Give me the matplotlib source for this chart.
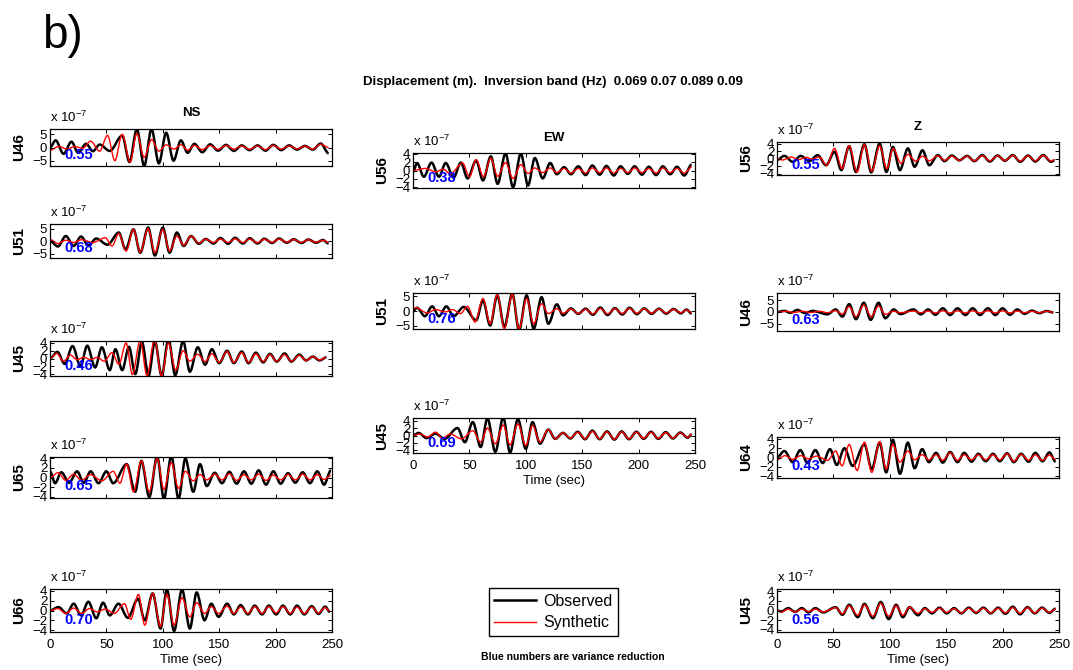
import matplotlib
matplotlib.use("Agg")
import matplotlib.pyplot as plt
from matplotlib.path import Path
from matplotlib.patches import PathPatch
from matplotlib.lines import Line2D

plt.rcParams['font.family'] = ['Liberation Sans', 'DejaVu Sans']
plt.rcParams['mathtext.fontset'] = 'custom'
plt.rcParams['mathtext.rm'] = 'Liberation Sans'
plt.rcParams['mathtext.it'] = 'Liberation Sans:italic'
plt.rcParams['mathtext.bf'] = 'Liberation Sans:bold'

# ---- waveform extrema (time in s, amplitude in 1e-7 m) ----
# NS component
ns_u46_obs_t = [0, 5, 12, 19, 25, 32, 38, 44, 53, 64, 70.5, 77, 83.5, 90, 96.5, 103, 109.5, 116, 122, 128,
                135, 142, 149, 156, 163, 170, 177, 184, 191, 198, 205, 212, 219, 226, 233, 240, 247]
ns_u46_obs_a = [0, 2.7, -2.4, 2.2, -2.0, 1.4, -1.4, 1.1, -1.3, 4.5, -5.5, 7.0, -7.0, 7.0, -6.0, 5.6, -5.0, 2.7, -2.0, 1.4,
                -1.8, 1.2, -1.2, 1.0, -1.3, 0.8, -1.0, 0.8, -1.2, 1.0, -1.0, 0.8, -0.8, 0.6, -0.8, 1.5, -2.2]
ns_u46_syn_t = [0, 8, 15, 22, 29, 36, 44, 51, 57.5, 64, 71, 77, 83.5, 90, 96.5, 103, 110, 116, 122, 128,
                135, 142, 149, 156, 163, 170, 177, 184, 191, 198, 205, 212, 219, 226, 233, 240, 247]
ns_u46_syn_a = [-1.0, 0.4, -0.6, 0.3, -0.3, 2.4, -1.4, 4.6, -5.0, 5.0, -5.5, 5.3, -3.7, 3.0, -1.4, 1.0, -0.6, 1.0, -1.0, 0.8,
                -0.8, 0.7, -0.7, 0.8, -0.6, 0.6, -0.7, 0.6, -0.8, 0.8, -0.6, 0.6, -0.5, 0.5, -0.6, 1.3, 0.0]

ns_u51_obs_t = [0, 7, 14, 21, 27.5, 34, 41, 51, 61, 67, 74, 80, 87, 93, 100, 106, 112.5, 118.5, 125, 132,
                138, 145, 151, 158, 164, 171, 177, 184, 190, 197, 203, 210, 216, 223, 229, 236, 242, 247]
ns_u51_obs_a = [0, -2.2, 2.0, -2.0, 1.8, -1.8, 1.0, -1.5, 3.4, -3.4, 4.7, -4.7, 5.4, -5.8, 5.4, -4.7, 3.4, -2.0, 2.0, -1.1,
                0.8, -1.0, 1.2, -1.1, 1.3, -1.0, 1.1, -1.0, 0.9, -0.8, 1.0, -0.7, 0.7, -0.8, 0.6, -0.7, 0.4, -1.0]
ns_u51_syn_t = [0, 7, 14, 21, 28, 38, 49, 55, 61, 67.5, 74, 80, 87, 93, 100, 106, 112.5, 118.5, 125, 132,
                138, 145, 151, 158, 164, 171, 177, 184, 190, 197, 203, 210, 216, 223, 229, 236, 242, 247]
ns_u51_syn_a = [0.6, -1.0, 0.3, -0.6, 0.5, -0.6, 1.3, -2.0, 3.0, -4.0, 4.7, -4.5, 5.0, -4.7, 4.7, -4.0, 2.0, -1.7, 2.0, -0.8,
                0.7, -0.6, 0.8, -0.6, 0.9, -0.6, 0.8, -0.7, 0.7, -0.6, 0.8, -0.5, 0.6, -0.6, 0.5, -0.5, 0.3, -0.6]

ns_u45_obs_t = [0, 6.5, 13, 20, 27, 33, 40, 46, 53, 58, 64, 70, 75.6, 81.5, 87.4, 93, 99, 105, 111, 118,
                124, 131, 137.5, 143.5, 150, 157, 163, 170, 176, 182.5, 189, 195, 201, 208, 214, 221, 227, 233, 239, 245]
ns_u45_obs_a = [0, 1.7, -1.4, 3.2, -2.0, 3.3, -2.3, 2.9, -3.0, 2.4, -3.0, 3.0, -4.0, 4.2, -4.4, 4.4, -4.5, 5.0, -4.3, 4.5,
                -3.4, 2.9, -1.6, 2.4, -1.2, 2.0, -1.2, 1.8, -1.2, 1.5, -1.0, 1.2, -0.8, 1.3, -0.8, 1.0, -0.5, 0.5, -0.5, 0.3]
ns_u45_syn_t = [0, 6, 12, 18, 24, 30, 36, 42, 48, 55, 61, 67.5, 73, 80, 86, 92.6, 99, 105, 111.5, 118,
                124, 131, 137.5, 143.5, 150, 157, 163, 170, 176, 182.5, 189, 195, 201, 208, 214, 221, 227, 233, 239, 245]
ns_u45_syn_a = [0, 1.3, -0.7, 0.9, -0.3, 0.3, -0.3, 0.3, -0.7, 1.5, -1.5, 4.0, -4.1, 4.7, -4.5, 4.9, -4.5, 4.0, -3.0, 2.0,
                -0.7, 1.1, -0.8, 1.2, -1.0, 1.8, -1.0, 1.5, -1.0, 1.2, -0.8, 1.0, -0.7, 1.0, -0.7, 0.8, -0.5, 0.5, -0.4, 0.3]

ns_u65_obs_t = [0, 4.5, 10, 17, 24, 30, 36, 43, 50, 56, 68, 75.5, 81, 88, 95, 101, 107.5, 114, 120, 127,
                133, 139, 146, 152.5, 159, 165.5, 172, 178.5, 185, 191.5, 198, 204.5, 211, 217.5, 224, 230.5, 237, 243, 249]
ns_u65_obs_a = [1.3, -1.2, 1.1, -1.1, 1.3, -1.1, 1.3, -1.2, 1.3, -1.2, 2.8, -3.0, 3.5, -4.1, 4.4, -4.5, 4.5, -4.5, 4.0, -3.0,
                2.8, -1.8, 1.0, -1.2, 1.2, -1.3, 1.3, -1.3, 1.5, -1.5, 1.3, -1.3, 0.9, -1.1, 1.1, -1.2, 1.3, -1.5, 1.5]
ns_u65_syn_t = [0, 7, 14, 21, 28, 36, 46, 56, 62, 68, 74, 81, 88, 95, 101, 107.5, 114, 120, 127, 133,
                139, 146, 152.5, 159, 165.5, 172, 178.5, 185, 191.5, 198, 204.5, 211, 217.5, 224, 230.5, 237, 243, 249]
ns_u65_syn_a = [0, 1.0, -0.6, 0.7, -0.6, 0.6, -0.7, 1.3, -1.2, 2.8, -3.0, 3.5, -3.0, 4.0, -2.5, 3.1, -2.3, 1.3, -0.7, 0.6,
                -0.5, 0.7, -0.5, 0.8, -0.6, 0.6, -0.5, 0.7, -0.6, 0.5, -0.5, 0.6, -0.5, 0.7, -0.5, 0.6, -0.4, 0.4]

ns_u66_obs_t = [0, 7.5, 14.8, 21, 27.5, 34, 41, 47, 53, 60.7, 69, 78, 84, 91, 98, 103.6, 110, 117, 124, 130,
                137, 143, 149.5, 157, 163, 169, 175.5, 181.5, 188, 194, 200.5, 206.5, 213, 219, 225.5, 232, 238, 244, 248]
ns_u66_obs_a = [0, 0.7, -0.6, 1.4, -1.0, 1.8, -1.6, 1.6, -1.0, 1.4, -1.5, 2.4, -2.0, 3.5, -3.7, 4.3, -4.2, 4.3, -3.7, 3.7,
                -2.0, 1.4, -1.3, 1.4, -0.8, 1.1, -0.8, 1.0, -0.8, 1.0, -0.8, 1.0, -0.8, 1.0, -0.8, 0.9, -0.7, 0.8, -0.3]
ns_u66_syn_t = [0, 7, 14, 21, 28, 35, 42, 49, 57, 66, 71.6, 78.4, 84, 91, 98, 103.6, 110, 117, 124, 130,
                137, 143, 149.5, 157, 163, 169, 175.5, 181.5, 188, 194, 200.5, 206.5, 213, 219, 225.5, 232, 238, 244, 248]
ns_u66_syn_a = [0, 0.4, -0.6, 0.5, -0.6, 0.4, -0.3, 0.3, -0.6, 1.4, -1.8, 3.3, -3.0, 3.5, -3.3, 3.3, -3.0, 2.6, -1.3, 1.6,
                -0.6, 0.8, -0.6, 0.9, -0.6, 0.7, -0.6, 0.8, -0.6, 0.8, -0.5, 0.8, -0.6, 0.7, -0.6, 0.7, -0.5, 0.6, -0.2]

# EW component
ew_u56_obs_t = [0, 3.6, 9.6, 16.4, 23, 29, 36, 42.4, 48.4, 56, 62, 69, 75, 82, 88.7, 95.6, 102, 108, 115, 121.6,
                127.5, 134, 140, 146.5, 153, 159, 165.5, 171.5, 178, 184, 190.5, 196.5, 203, 209, 215.5, 221.5, 228, 234, 240.5, 247]
ew_u56_obs_a = [-0.3, 1.8, -1.5, 1.9, -1.5, 1.8, -1.7, 1.9, -1.9, 2.4, -2.4, 3.4, -3.2, 4.1, -4.0, 4.1, -3.6, 3.0, -1.9, 1.8,
                -0.9, 0.8, -0.9, 1.0, -1.1, 1.2, -1.0, 1.1, -1.2, 1.0, -0.8, 1.0, -1.0, 0.9, -1.1, 1.0, -0.9, 0.9, -1.2, 1.4]
ew_u56_syn_t = [0, 11, 20, 27, 33, 44, 50, 56, 62.5, 69, 75, 82, 88.7, 95.6, 102, 108, 115, 121.6, 127.5, 134,
                140, 146.5, 153, 159, 165.5, 171.5, 178, 184, 190.5, 196.5, 203, 209, 215.5, 221.5, 228, 234, 240.5, 247]
ew_u56_syn_a = [0, 0.5, -0.3, 0.3, -0.8, 1.8, -1.5, 2.6, -1.5, 3.0, -1.4, 1.9, -1.9, 1.4, -0.7, 0.6, -0.5, 0.6, -0.5, 0.5,
                -0.6, 0.5, -0.6, 0.6, -0.5, 0.6, -0.6, 0.5, -0.5, 0.6, -0.5, 0.5, -0.6, 0.6, -0.5, 0.5, -0.6, 0.8]

ew_u51_obs_t = [0, 3.6, 10.5, 17, 23, 29.6, 36, 45, 56, 62, 68.4, 74.7, 81, 88, 94, 100.7, 107, 114, 120, 127.5,
                133, 140, 146.5, 153, 159.5, 166, 172.5, 179, 185.5, 192, 198.5, 205, 211.5, 218, 224.5, 231, 237.5, 242.5, 247]
ew_u51_obs_a = [0, 1.1, -1.8, 1.6, -1.8, 1.6, -1.8, 1.4, -3.2, 3.7, -5.0, 5.4, -5.5, 6.0, -6.6, 5.4, -6.1, 4.8, -4.4, 2.3,
                -1.5, 0.9, -1.0, 0.8, -1.3, 1.2, -1.4, 1.0, -1.2, 1.1, -1.1, 0.9, -1.0, 0.8, -0.9, 0.7, -0.8, 0.5, -0.9]
ew_u51_syn_t = [0, 3, 12.5, 20, 29, 35, 42, 48.4, 55, 62, 68.4, 74.7, 81, 88, 94, 100.7, 107, 114, 120, 127.5,
                133, 140, 146.5, 153, 159.5, 166, 172.5, 179, 185.5, 192, 198.5, 205, 211.5, 218, 224.5, 231, 237.5, 242.5, 247]
ew_u51_syn_a = [0.8, 1.1, -0.7, 0.5, -0.3, 0.5, -0.9, 1.6, -3.8, 4.3, -4.4, 5.7, -6.1, 5.7, -6.1, 4.3, -4.4, 2.5, -0.9, 0.8,
                -0.8, 0.7, -0.9, 0.6, -1.0, 0.9, -1.0, 0.8, -0.9, 0.9, -0.8, 0.8, -0.8, 0.7, -0.7, 0.6, -0.6, 0.4, -0.6]

ew_u45_obs_t = [0, 5, 12, 20, 28, 39.4, 46, 53, 60, 66, 73, 80, 86, 93, 100, 106, 112.6, 120, 126, 133,
                139.5, 146, 152.5, 159, 165.5, 172, 178.5, 185, 191.5, 198, 204.5, 211, 217.5, 224, 230.5, 237, 243.5, 247]
ew_u45_obs_a = [0, 0.7, -0.7, 0.5, -0.9, 2.0, -1.8, 3.6, -3.1, 4.6, -4.4, 4.9, -4.6, 4.4, -3.6, 3.6, -2.2, 1.6, -0.9, 0.7,
                -0.8, 1.0, -1.0, 1.3, -1.0, 1.1, -1.1, 1.1, -1.0, 1.0, -0.9, 1.0, -0.9, 0.9, -0.8, 0.8, -0.6, 0.3]
ew_u45_syn_t = [0, 6, 13, 20, 26, 33, 43, 53, 60, 66, 73, 80, 86, 93, 100, 106, 112.6, 120, 126, 133,
                139.5, 146, 152.5, 159, 165.5, 172, 178.5, 185, 191.5, 198, 204.5, 211, 217.5, 224, 230.5, 237, 243.5, 247]
ew_u45_syn_a = [0, 0.4, -0.4, 0.9, -0.7, 0.4, -0.9, 1.3, -1.8, 2.0, -2.2, 2.8, -2.5, 3.1, -2.7, 2.7, -1.8, 1.6, -0.9, 0.7,
                -0.7, 0.9, -0.9, 1.1, -0.9, 1.0, -1.0, 1.0, -0.9, 0.9, -0.8, 0.9, -0.8, 0.8, -0.7, 0.7, -0.5, 0.3]

# Z component
z_u56_obs_t = [0, 6.5, 14, 21, 28.7, 36, 43.5, 51, 57, 64, 70, 77.5, 83.5, 91, 97, 102.7, 109, 116, 122, 129,
               135, 142.6, 148.5, 155, 161.7, 168.5, 175, 182, 188.7, 195.5, 202, 209, 215.7, 222.5, 229, 236, 243, 246]
z_u56_obs_a = [-0.4, 0.7, -0.9, 0.7, -0.7, 0.9, -1.8, 1.8, -3.1, 3.3, -3.6, 3.8, -3.7, 4.0, -3.6, 3.1, -3.1, 2.7, -2.2, 2.2,
               -1.8, 0.9, -0.7, 0.8, -0.5, 0.7, -0.7, 0.9, -0.8, 0.8, -0.6, 0.9, -0.9, 0.8, -0.8, 0.9, -0.9, -0.5]
z_u56_syn_t = [0, 5, 12.4, 19, 26, 31, 37.6, 44, 51, 57.7, 64, 71, 77.5, 84, 91, 97.4, 103, 110, 116, 123,
               129, 135, 142.6, 148.5, 155, 161.7, 168.5, 175, 182, 188.7, 195.5, 202, 209, 215.7, 222.5, 229, 236, 243, 246]
z_u56_syn_a = [0, -0.4, 0.4, -0.3, 0.3, -0.2, 0.4, -1.8, 2.7, -2.7, 3.4, -3.6, 3.7, -3.4, 3.4, -2.7, 2.7, -1.3, 1.1, -0.7,
               0.6, -0.6, 0.7, -0.5, 0.6, -0.5, 0.6, -0.6, 0.7, -0.6, 0.7, -0.5, 0.8, -0.7, 0.7, -0.6, 0.8, -0.7, -0.3]

z_u46_obs_t = [0, 6.5, 12, 18, 25, 31.5, 44.7, 52, 58, 64, 70, 77, 83, 90, 96, 103.5, 109.4, 121, 127.5, 134,
               140.5, 147, 153.5, 160, 167, 173.5, 180, 187, 193.5, 200, 206.5, 213, 219.5, 226, 232.5, 239, 245]
z_u46_obs_a = [0, 0.5, -0.4, 0.9, -0.5, 0.5, -1.0, 1.1, -2.0, 3.4, -3.1, 4.0, -3.4, 4.0, -2.7, 1.1, -0.9, 1.1, -1.0, 1.1,
               -1.2, 1.6, -1.3, 1.6, -1.3, 1.6, -1.3, 1.6, -1.3, 1.6, -1.2, 1.1, -0.8, 0.6, -0.5, 0.4, -0.2]
z_u46_syn_t = [0, 8, 15, 22, 30, 38, 45, 52, 58, 64, 70, 77, 83.5, 90, 96, 103.5, 109.4, 121, 127.5, 134,
               140.5, 147, 153.5, 160, 167, 173.5, 180, 187, 193.5, 200, 206.5, 213, 219.5, 226, 232.5, 239, 245]
z_u46_syn_a = [-0.2, 0.3, -0.2, 0.3, -0.2, 0.3, -0.3, 0.6, -0.9, 2.3, -2.0, 3.0, -2.0, 2.6, -1.0, 0.3, -0.3, 0.4, -0.3, 0.4,
               -0.4, 0.5, -0.4, 0.5, -0.4, 0.5, -0.4, 0.5, -0.4, 0.5, -0.4, 0.4, -0.3, 0.3, -0.3, 0.3, -0.1]

z_u64_obs_t = [0, 6.5, 14, 20.7, 27, 34, 40.5, 47, 53, 59.8, 67, 77.5, 84, 91, 96.8, 102.7, 109, 116, 122, 128.7,
               134.6, 141, 147, 153.5, 160, 166, 172.5, 178.5, 185, 191.5, 197.5, 204, 210, 216.5, 223, 229, 235.5, 241.5, 247]
z_u64_obs_a = [0, 1.4, -1.0, 1.6, -1.2, 1.6, -1.2, 1.8, -1.6, 2.0, -1.8, 2.8, -2.5, 3.2, -3.2, 3.8, -3.5, 3.2, -2.3, 1.8,
               -1.0, 1.0, -1.1, 1.2, -1.0, 1.0, -0.9, 0.8, -0.8, 0.8, -0.8, 0.9, -1.0, 0.8, -0.9, 1.0, -0.8, 1.1, -0.9]
z_u64_syn_t = [0, 7, 14, 21, 28, 35, 45, 52, 57.7, 64, 71, 77.5, 84, 91, 96.8, 102.7, 109, 116, 122, 128.7,
               134.6, 141, 147, 153.5, 160, 166, 172.5, 178.5, 185, 191.5, 197.5, 204, 210, 216.5, 223, 229, 235.5, 241.5, 247]
z_u64_syn_a = [-0.5, 0.4, -0.4, 0.4, -0.3, 0.3, -0.6, 1.4, -1.8, 2.8, -2.8, 3.3, -3.2, 3.4, -2.5, 2.8, -1.0, 1.4, -0.5, 0.6,
               -0.5, 0.6, -0.6, 1.0, -0.6, 0.6, -0.5, 0.6, -0.5, 0.6, -0.5, 0.8, -0.8, 0.7, -0.6, 0.6, -0.6, 0.5, -0.4]

z_u45_t = [0, 4, 10, 16, 22, 28, 34, 41, 52, 58, 64, 71.6, 77.5, 85, 92, 99, 105.6, 111.6, 117.5, 125,
           131, 137.5, 144, 150.5, 157, 163.5, 170, 176.5, 183, 189.5, 196, 202.5, 209, 215.5, 222, 228.5, 235, 241.5, 247]
z_u45_obs_a = [0, -0.2, 0.5, -0.3, 0.5, -0.4, 0.5, -0.4, 0.7, -0.9, 1.2, -1.4, 1.4, -1.6, 1.8, -1.8, 1.2, -1.4, 0.7, -1.0,
               0.5, -0.6, 0.6, -0.6, 0.5, -0.6, 0.6, -0.5, 0.6, -0.6, 0.6, -0.7, 0.8, -0.8, 0.7, -0.6, 0.6, -0.5, 0.4]
z_u45_syn_a = [0, -0.3, 0.3, -0.3, 0.3, -0.2, 0.3, -0.3, 0.6, -0.7, 1.0, -1.0, 1.2, -1.2, 1.5, -1.2, 1.0, -1.0, 0.7, -0.6,
               0.4, -0.4, 0.5, -0.4, 0.4, -0.5, 0.5, -0.4, 0.5, -0.5, 0.5, -0.5, 0.6, -0.6, 0.6, -0.5, 0.5, -0.4, 0.3]

panels = [
    # column, station, VR, ylim, yticks, obs_t, obs_a, syn_t, syn_a, box (top, bottom px), x labels
    ('NS', 'U46', '0.55', 7.0, [-5, 0, 5], ns_u46_obs_t, ns_u46_obs_a, ns_u46_syn_t, ns_u46_syn_a, (129, 166), False),
    ('NS', 'U51', '0.68', 6.8, [-5, 0, 5], ns_u51_obs_t, ns_u51_obs_a, ns_u51_syn_t, ns_u51_syn_a, (224, 258), False),
    ('NS', 'U45', '0.46', 4.5, [-4, -2, 0, 2, 4], ns_u45_obs_t, ns_u45_obs_a, ns_u45_syn_t, ns_u45_syn_a, (341, 376), False),
    ('NS', 'U65', '0.65', 4.3, [-4, -2, 0, 2, 4], ns_u65_obs_t, ns_u65_obs_a, ns_u65_syn_t, ns_u65_syn_a, (457, 498), False),
    ('NS', 'U66', '0.70', 4.4, [-4, -2, 0, 2, 4], ns_u66_obs_t, ns_u66_obs_a, ns_u66_syn_t, ns_u66_syn_a, (589, 632), True),
    ('EW', 'U56', '0.38', 4.2, [-4, -2, 0, 2, 4], ew_u56_obs_t, ew_u56_obs_a, ew_u56_syn_t, ew_u56_syn_a, (153, 188), False),
    ('EW', 'U51', '0.76', 6.2, [-5, 0, 5], ew_u51_obs_t, ew_u51_obs_a, ew_u51_syn_t, ew_u51_syn_a, (293, 329), False),
    ('EW', 'U45', '0.69', 4.7, [-4, -2, 0, 2, 4], ew_u45_obs_t, ew_u45_obs_a, ew_u45_syn_t, ew_u45_syn_a, (418, 453), True),
    ('Z', 'U56', '0.55', 4.4, [-4, -2, 0, 2, 4], z_u56_obs_t, z_u56_obs_a, z_u56_syn_t, z_u56_syn_a, (142, 175), False),
    ('Z', 'U46', '0.63', 8.2, [-5, 0, 5], z_u46_obs_t, z_u46_obs_a, z_u46_syn_t, z_u46_syn_a, (293, 331), False),
    ('Z', 'U64', '0.43', 4.4, [-4, -2, 0, 2, 4], z_u64_obs_t, z_u64_obs_a, z_u64_syn_t, z_u64_syn_a, (437, 478), False),
    ('Z', 'U45', '0.56', 4.5, [-4, -2, 0, 2, 4], z_u45_t, z_u45_obs_a, z_u45_t, z_u45_syn_a, (589, 632), True),
]

col_left = {'NS': 50, 'EW': 413, 'Z': 777}
col_title_y = {'NS': 113, 'EW': 138, 'Z': 127}
AX_W = 282
W, H = 1073, 670


def fx(x):
    return x / W


def fy(y):
    return 1 - y / H


def wave(t, a):
    # smooth curve through the extrema (horizontal tangent at each one)
    verts = [(t[0], a[0])]
    codes = [Path.MOVETO]
    for i in range(len(t) - 1):
        h = t[i + 1] - t[i]
        verts += [(t[i] + h / 3, a[i]), (t[i + 1] - h / 3, a[i + 1]), (t[i + 1], a[i + 1])]
        codes += [Path.CURVE4] * 3
    return Path(verts, codes)


fig = plt.figure(figsize=(W / 100, H / 100), dpi=100)

for comp, sta, vr, ylim, yt, ot, oa, st, sa, (top, bot), xlab in panels:
    left = col_left[comp]
    ax = fig.add_axes([fx(left), fy(bot), AX_W / W, (bot - top) / H])
    ax.add_patch(PathPatch(wave(ot, oa), fill=False, ec='black', lw=1.8, joinstyle='round'))
    ax.add_patch(PathPatch(wave(st, sa), fill=False, ec='#ff0000', lw=1.0, joinstyle='round'))
    ax.set_xlim(0, 250)
    ax.set_ylim(-ylim, ylim)
    ax.set_yticks(yt)
    ax.set_xticks([0, 50, 100, 150, 200, 250])
    ax.tick_params(direction='in', length=3, width=0.7, labelsize=9.5, pad=2,
                   top=True, right=True)
    ax.tick_params(axis='x', pad=5)
    if xlab:
        ax.set_xlabel('Time (sec)', fontsize=9.5, labelpad=2)
    else:
        ax.set_xticklabels([])
    for s in ax.spines.values():
        s.set_linewidth(0.9)
    ax.text(0.05, 0.29, vr, transform=ax.transAxes, color='#0000ff',
            fontsize=10.5, fontweight='bold', va='center', ha='left')
    fig.text(fx(left - 31), fy((top + bot) / 2), sta, rotation=90, fontsize=11,
             fontweight='bold', ha='center', va='center')
    fig.text(fx(left), fy(top - 4), r'x 10$^{-7}$', fontsize=9.5, ha='left', va='bottom')

for comp in ['NS', 'EW', 'Z']:
    fig.text(fx(col_left[comp] + AX_W / 2), fy(col_title_y[comp]), comp,
             fontsize=9.5, fontweight='bold', ha='center', va='center')

fig.text(fx(42), fy(36), 'b)', fontsize=33, ha='left', va='center')
fig.text(fx(553), fy(82), 'Displacement (m).  Inversion band (Hz)  0.069 0.07 0.089 0.09',
         fontsize=9.5, fontweight='bold', ha='center', va='center')
fig.text(fx(573), fy(657), 'Blue numbers are variance reduction',
         fontsize=7.5, fontweight='bold', ha='center', va='center')

handles = [Line2D([], [], color='black', lw=1.8), Line2D([], [], color='#ff0000', lw=1.0)]
fig.legend(handles, ['Observed', 'Synthetic'], loc='center',
           bbox_to_anchor=(fx(553.5), fy(612)), fontsize=11.5, frameon=True,
           fancybox=False, edgecolor='black', framealpha=1, handlelength=2.6,
           handletextpad=0.5, borderpad=0.35, labelspacing=0.4)

fig.savefig('out.png', dpi=100)
